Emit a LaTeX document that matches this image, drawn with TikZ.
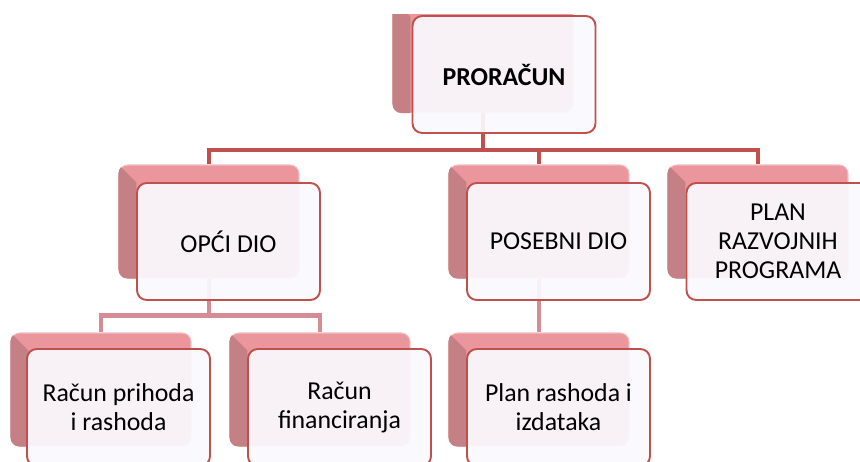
\documentclass[tikz,border=0pt]{standalone}
\usepackage{fontspec}
\setmainfont{Carlito}
\usetikzlibrary{positioning}

\definecolor{boxline}{RGB}{192,80,77}
\definecolor{frontfill}{RGB}{250,249,253}
\definecolor{backtop}{RGB}{234,150,156}
\definecolor{backside}{RGB}{196,128,132}
\definecolor{backedge}{RGB}{242,188,192}
\definecolor{sublinkcol}{RGB}{214,140,148}

\newcommand{\diagfont}{\fontsize{14.7}{16.4}\selectfont}

\tikzset{
  backbox/.style={draw=backedge, line width=0.6pt, fill=backtop, rounded corners=5pt,
    minimum width=3.6cm, minimum height=2.26cm, inner sep=0pt},
  frontbox/.style={draw=boxline, line width=1.1pt, fill=frontfill, fill opacity=0.93,
    text opacity=1, rounded corners=5.5pt, minimum width=3.66cm, minimum height=2.34cm,
    inner sep=0pt, align=center, font=\diagfont},
  toplink/.style={draw=boxline, line width=2.4pt},
  sublink/.style={draw=sublinkcol, line width=2.8pt}
}

\begin{document}
\begin{tikzpicture}[x=0.02cm, y=-0.02cm]
  \useasboundingbox (0,0) rectangle (860,461);
  \clip (0,14) rectangle (860,461);

  % shadow boxes
  \node[backbox] (prorB) at (483,56) {};
  \node[backbox] (opciB) at (209,221.5) {};
  \node[backbox] (posebB) at (539,221.5) {};
  \node[backbox] (planB) at (758,221.5) {};
  \node[backbox] (prihB) at (101,389.5) {};
  \node[backbox] (finB) at (320,389.5) {};
  \node[backbox] (rashB) at (539,389.5) {};
  \foreach \b in {prorB,opciB,posebB,planB,prihB,finB,rashB} {
    \begin{scope}
      \clip[rounded corners=5pt] (\b.north west) rectangle (\b.south east);
      \fill[backside] (\b.north west) -- ++(18,18) |- (\b.south west) -- cycle;
    \end{scope}
  }

  % connectors
  \draw[toplink] (prorB.south) -- ++(0,37) -| (opciB.north);
  \draw[toplink] (prorB.south) -- ++(0,37) -| (posebB.north);
  \draw[toplink] (prorB.south) -- ++(0,37) -| (planB.north);
  \draw[sublink] (opciB.south) -- ++(0,37) -| (prihB.north);
  \draw[sublink] (opciB.south) -- ++(0,37) -| (finB.north);
  \draw[sublink] (posebB.south) -- (rashB.north);

  % boxes
  \node[frontbox, font={\diagfont\bfseries}] (pror) at (504,74.5) {PRORAČUN};
  \node[frontbox] (opci) at (228.5,241.5) {OPĆI DIO};
  \node[frontbox] (poseb) at (558.5,241.5) {POSEBNI DIO};
  \node[frontbox] (plan) at (778,241.5) {PLAN\\RAZVOJNIH\\PROGRAMA};
  \node[frontbox] (prih) at (118.5,407.5) {Račun prihoda\\i rashoda};
  \node[frontbox] (fin) at (339.5,407.5) {Račun\\financiranja};
  \node[frontbox] (rash) at (558.5,407.5) {Plan rashoda i\\izdataka};
\end{tikzpicture}
\end{document}
